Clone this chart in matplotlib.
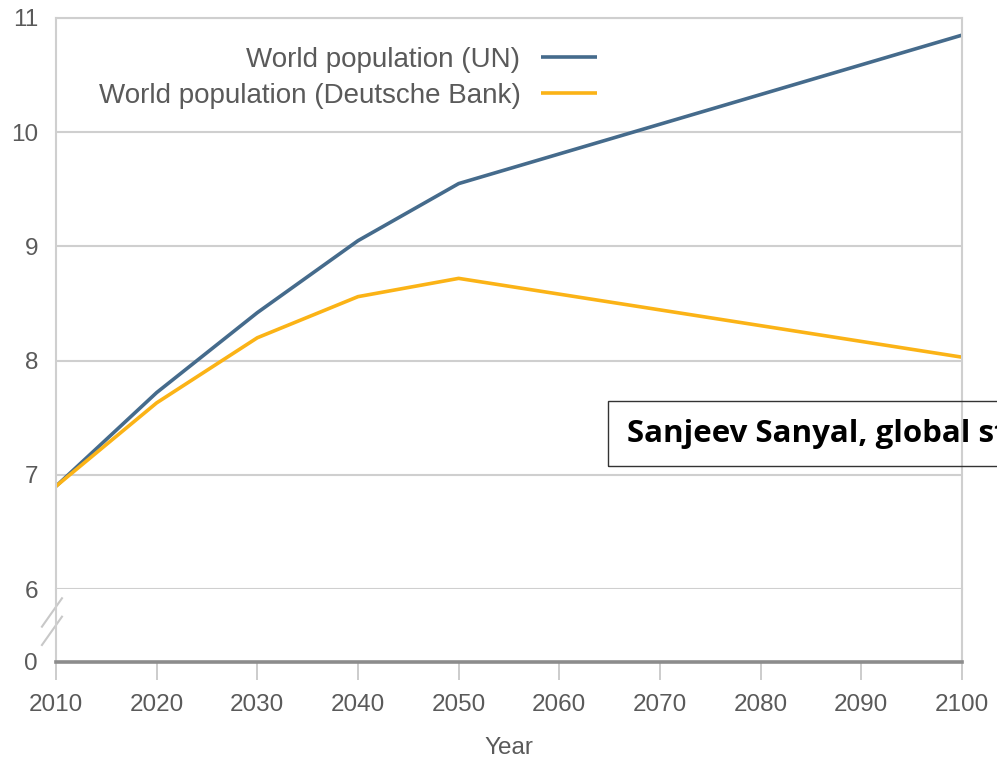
import matplotlib
matplotlib.use('Agg')
import matplotlib.pyplot as plt
from matplotlib.patches import Rectangle

# data (billions)
years = [2010, 2020, 2030, 2040, 2050, 2100]
un_pop = [6.9, 7.72, 8.42, 9.05, 9.55, 10.85]
db_pop = [6.9, 7.63, 8.2, 8.56, 8.72, 8.03]
x_ticks = list(range(2010, 2101, 10))
y_ticks_top = [6, 7, 8, 9, 10, 11]
y_ticks_bottom = [0]

plt.rcParams['font.family'] = ['Liberation Sans', 'DejaVu Sans']
TXT = '#5a5a5a'
GRID = '#cfcfcf'
UN_COL = '#456b8c'
DB_COL = '#fbb316'

W, H = 997, 759
fig = plt.figure(figsize=(W / 100, H / 100), dpi=100)

def fx(px):
    return px / W

def fy(px):
    return 1 - px / H

left, right = fx(56), fx(962)
ax = fig.add_axes([left, fy(589), right - left, fy(18) - fy(589)])
axb = fig.add_axes([left, fy(662), right - left, fy(589) - fy(662)], sharex=ax)

# main panel
ax.plot(years, un_pop, color=UN_COL, lw=2.6, label='World population (UN)', solid_capstyle='butt')
ax.plot(years, db_pop, color=DB_COL, lw=2.6, label='World population (Deutsche Bank)', solid_capstyle='butt')
ax.set_xlim(2010, 2100)
ax.set_ylim(6, 11)
ax.set_yticks(y_ticks_top)
ax.yaxis.grid(True, color=GRID, lw=1.5)
ax.set_axisbelow(True)
ax.tick_params(axis='y', length=0, pad=13, labelsize=17.5, labelcolor=TXT)
ax.tick_params(axis='x', bottom=False, labelbottom=False)
for s in ['top', 'right', 'left']:
    ax.spines[s].set_color(GRID)
    ax.spines[s].set_linewidth(1.5)
ax.spines['bottom'].set_visible(False)

leg = ax.legend(loc='upper right', bbox_to_anchor=(0.597, (589 - 47) / 571), markerfirst=False,
                frameon=False, fontsize=20, handlelength=2.0, handletextpad=0.75,
                labelspacing=0.35, borderpad=0, borderaxespad=0)
for t in leg.get_texts():
    t.set_color(TXT)

# zero strip below the break
axb.set_ylim(0, 1)
axb.set_yticks(y_ticks_bottom)
axb.set_xticks(x_ticks)
axb.tick_params(axis='y', length=0, pad=13, labelsize=17.5, labelcolor=TXT)
axb.tick_params(axis='x', direction='out', length=13, width=1.2, color='#c4c4c4',
                pad=10, labelsize=17.5, labelcolor=TXT)
axb.spines['top'].set_visible(False)
for s in ['right', 'left']:
    axb.spines[s].set_color(GRID)
    axb.spines[s].set_linewidth(1.5)
axb.spines['bottom'].set_color('#8c8c8c')
axb.spines['bottom'].set_linewidth(2.6)
axb.set_xlabel('Year', fontsize=17.5, color=TXT, labelpad=15)

# axis break marks
for y0, y1 in [(0.484, 0.873), (0.233, 0.621)]:
    axb.plot([-0.0155, 0.0066], [y0, y1], transform=axb.transAxes, color='#c8c8c8',
             lw=1.5, clip_on=False)

# quote box, cut off at the right edge as in the source
fig.patches.append(Rectangle((fx(608), fy(466)), fx(500), fy(401) - fy(466),
                             transform=fig.transFigure, fill=False, ec='#333333', lw=1.0))
fig.text(fx(627), fy(434), 'Sanjeev Sanyal, global strategist',
         fontsize=22.5, fontweight='bold', family=['Open Sans', 'DejaVu Sans'], color='black',
         ha='left', va='center')

fig.savefig('out.png', dpi=100)
